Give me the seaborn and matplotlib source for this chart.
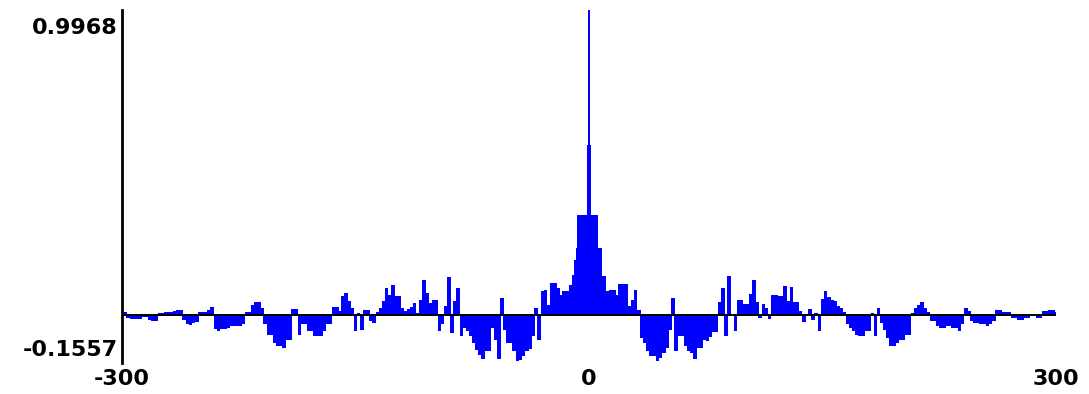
import numpy as np
import pandas as pd
import seaborn as sns
import matplotlib
matplotlib.use("Agg")
import matplotlib.pyplot as plt
from matplotlib.transforms import ScaledTranslation

# Cross-correlation values, lags -300 .. -10 (every 2nd lag)
left_lags = np.arange(-300, -9, 2)
left_vals = [
    0.012, 0.010, -0.008, -0.011, -0.012, -0.013, -0.012, -0.004, -0.005, -0.015,
    -0.020, -0.018, 0.006, 0.008, 0.010, 0.011, 0.012, 0.014, 0.018, 0.016,
    -0.014, -0.030, -0.032, -0.025, -0.022, 0.010, 0.010, 0.012, 0.018, 0.026,
    -0.045, -0.052, -0.045, -0.045, -0.042, -0.036, -0.036, -0.036, -0.036, -0.030,
    0.010, 0.010, 0.035, 0.043, 0.043, 0.024, -0.030, -0.063, -0.063, -0.092,
    -0.099, -0.099, -0.106, -0.079, -0.079, 0.020, 0.020, -0.063, -0.030, -0.030,
    -0.052, -0.052, -0.068, -0.068, -0.068, -0.052, -0.030, -0.030, 0.027, 0.027,
    0.013, 0.062, 0.073, 0.046, 0.024, -0.052, 0.008, -0.047, 0.018, 0.018,
    -0.020, -0.025, 0.010, 0.024, 0.046, 0.089, 0.067, 0.100, 0.062, 0.062,
    0.024, 0.013, 0.020, 0.027, 0.040, 0.008, 0.051, 0.116, 0.073, 0.040,
    0.051, 0.051, -0.052, -0.030, 0.029, 0.125, -0.058, 0.046, 0.089, -0.068,
    -0.041, -0.050, -0.068, -0.090, -0.112, -0.130, -0.144, -0.117, -0.117, -0.041,
    -0.079, -0.144, 0.056, -0.047, -0.090, -0.090, -0.117, -0.150, -0.145, -0.134,
    -0.117, -0.110, -0.068, 0.024, -0.079, 0.078, 0.084, 0.035, 0.105, 0.105,
    0.089, 0.067, 0.080, 0.080, 0.100, 0.132,
]

# Central peak, every lag from -9 to 9
center_lags = np.arange(-9, 10)
center_vals = [
    0.180, 0.219, 0.328, 0.328, 0.328, 0.328, 0.328, 0.328, 0.556,
    0.9968,
    0.556, 0.328, 0.328, 0.328, 0.328, 0.219, 0.219, 0.219, 0.127,
]

# Lags 10 .. 300 (every 2nd lag)
right_lags = np.arange(10, 301, 2)
right_vals = [
    0.127, 0.078, 0.084, 0.084, 0.067, 0.103, 0.103, 0.103, 0.029, 0.051,
    0.084, 0.018, -0.074, -0.090, -0.117, -0.134, -0.134, -0.150, -0.140, -0.123,
    -0.106, -0.047, 0.056, -0.117, -0.068, -0.068, -0.100, -0.117, -0.123, -0.144,
    -0.106, -0.106, -0.079, -0.085, -0.070, -0.055, -0.055, 0.042, 0.090, -0.066,
    0.127, 0.005, -0.050, 0.050, 0.050, 0.037, 0.037, 0.070, 0.116, 0.042,
    -0.010, 0.037, 0.023, -0.012, 0.066, 0.066, 0.064, 0.064, 0.097, 0.048,
    0.091, 0.042, 0.042, 0.015, -0.023, 0.005, 0.020, -0.015, 0.008, -0.050,
    0.053, 0.078, 0.059, 0.051, 0.046, 0.029, 0.024, 0.010, -0.030, -0.040,
    -0.052, -0.063, -0.068, -0.068, -0.052, -0.052, 0.008, -0.068, 0.024, -0.025,
    -0.047, -0.074, -0.101, -0.101, -0.090, -0.079, -0.079, -0.063, -0.063, 0.008,
    0.024, 0.035, 0.043, 0.024, 0.010, -0.020, -0.020, -0.036, -0.041, -0.041,
    -0.036, -0.036, -0.041, -0.041, -0.050, -0.030, 0.024, 0.013, -0.020, -0.025,
    -0.025, -0.030, -0.030, -0.036, -0.030, -0.020, 0.016, 0.016, 0.010, 0.010,
    0.010, -0.009, -0.009, -0.014, -0.014, -0.009, -0.009, -0.003, -0.003, -0.008,
    -0.008, 0.013, 0.013, 0.018, 0.018, 0.010,
]

y_min, y_max = -0.1557, 0.9968
x_ticks = [-300, 0, 300]
x_tick_labels = ["-300", "0", "300"]
y_tick_labels = ["-0.1557", "0.9968"]

sns.set_theme(style="white")
plt.rcParams["font.family"] = ["DejaVu Sans"]

outer = pd.DataFrame({
    "lag": np.concatenate([left_lags, right_lags]),
    "r": np.concatenate([left_vals, right_vals]),
})
inner = pd.DataFrame({"lag": center_lags, "r": center_vals})

fig = plt.figure(figsize=(10.89, 3.94), dpi=100, facecolor="white")
ax = fig.add_axes([122 / 1089, 31 / 394, 934 / 1089, 353 / 394])
ax.set_facecolor("white")

# Slightly overlapping bars so neighbouring lags merge into one filled area
bar_kw = dict(color="#0000ff", saturation=1, native_scale=True, orient="x",
              errorbar=None, width=1.15, linewidth=0, ax=ax)
sns.barplot(data=outer, x="lag", y="r", **bar_kw)
sns.barplot(data=inner, x="lag", y="r", **bar_kw)

ax.axhline(0, color="black", lw=1.4, zorder=5)

ax.set_xlim(-300, 300)
ax.set_ylim(y_min, y_max)
ax.set_xlabel("")
ax.set_ylabel("")
sns.despine(ax=ax, top=True, right=True, bottom=True, left=False)
ax.spines["left"].set_color("black")
ax.spines["left"].set_linewidth(2.0)
ax.grid(False)

ax.set_xticks(x_ticks)
ax.set_xticklabels(x_tick_labels, fontsize=16, fontweight="bold", color="black")
ax.set_yticks([y_min, y_max])
ax.set_yticklabels(y_tick_labels, fontsize=16, fontweight="bold", color="black")
ax.tick_params(axis="both", length=0)
ax.tick_params(axis="y", pad=3)
ax.tick_params(axis="x", pad=4)

# Shift the y labels inside the span of the axis line
lo_label, hi_label = ax.get_yticklabels()
lo_label.set_transform(lo_label.get_transform() + ScaledTranslation(0, 15 / 100, fig.dpi_scale_trans))
hi_label.set_transform(hi_label.get_transform() + ScaledTranslation(0, -16 / 100, fig.dpi_scale_trans))

fig.savefig("out.png", dpi=100, facecolor="white")
